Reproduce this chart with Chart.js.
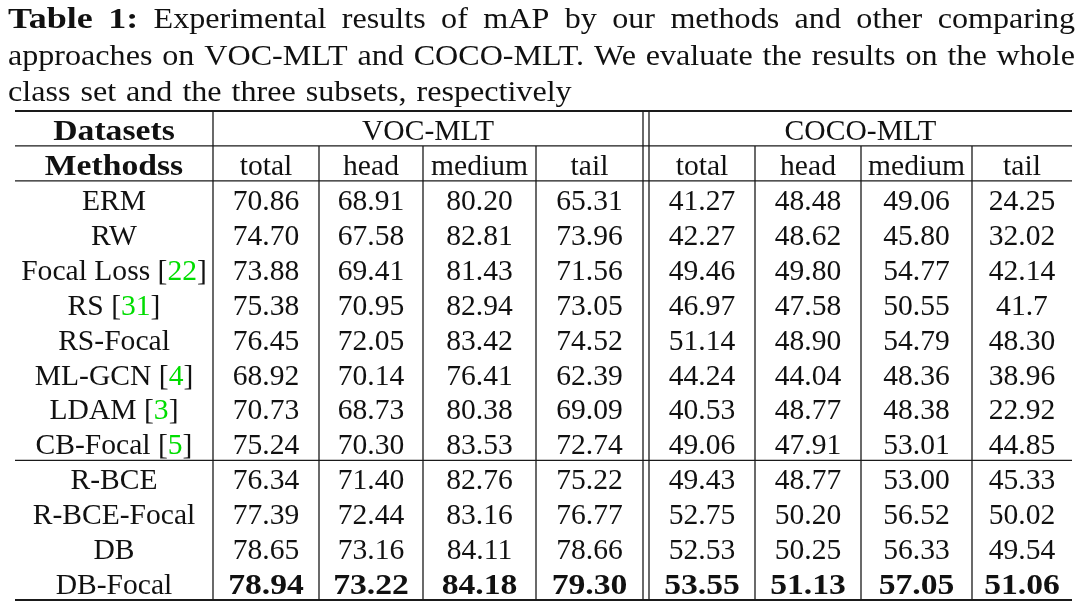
<!DOCTYPE html>
<html>
<head>
<meta charset="utf-8">
<script src="https://cdn.jsdelivr.net/npm/chart.js@4.4.0/dist/chart.umd.min.js"></script>
<style>
    html, body { margin: 0; padding: 0; background: #fff; }
    canvas { display: block; }
</style>
</head>
<body>
<canvas id="tabela" width="1080" height="608"></canvas>
<script>
// caption text (first words bold)
const tituloNegrito = 'Table 1:'
const tituloLinhas = [
    'Experimental results of mAP by our methods and other comparing',
    'approaches on VOC-MLT and COCO-MLT. We evaluate the results on the whole',
    'class set and the three subsets, respectively'
]

const datasets = ['VOC-MLT', 'COCO-MLT']
const subsets = ['total', 'head', 'medium', 'tail']

const metodos = ['ERM', 'RW', 'Focal Loss', 'RS', 'RS-Focal', 'ML-GCN', 'LDAM', 'CB-Focal',
    'R-BCE', 'R-BCE-Focal', 'DB', 'DB-Focal']
const referencias = ['', '', '22', '31', '', '4', '3', '5', '', '', '', '']

const vocTotal = ['70.86', '74.70', '73.88', '75.38', '76.45', '68.92', '70.73', '75.24', '76.34', '77.39', '78.65', '78.94']
const vocHead = ['68.91', '67.58', '69.41', '70.95', '72.05', '70.14', '68.73', '70.30', '71.40', '72.44', '73.16', '73.22']
const vocMedium = ['80.20', '82.81', '81.43', '82.94', '83.42', '76.41', '80.38', '83.53', '82.76', '83.16', '84.11', '84.18']
const vocTail = ['65.31', '73.96', '71.56', '73.05', '74.52', '62.39', '69.09', '72.74', '75.22', '76.77', '78.66', '79.30']

const cocoTotal = ['41.27', '42.27', '49.46', '46.97', '51.14', '44.24', '40.53', '49.06', '49.43', '52.75', '52.53', '53.55']
const cocoHead = ['48.48', '48.62', '49.80', '47.58', '48.90', '44.04', '48.77', '47.91', '48.77', '50.20', '50.25', '51.13']
const cocoMedium = ['49.06', '45.80', '54.77', '50.55', '54.79', '48.36', '48.38', '53.01', '53.00', '56.52', '56.33', '57.05']
const cocoTail = ['24.25', '32.02', '42.14', '41.7', '48.30', '38.96', '22.92', '44.85', '45.33', '50.02', '49.54', '51.06']

// layout (not data)
const larguraColunas = [198, 106, 104, 113, 107, 6, 106, 106, 111, 100]
const linhaSeparadora = 10   // row index where "our methods" start
const fonte = "'Liberation Serif', 'Times New Roman', serif"
const corTexto = '#111'
const corLinha = '#1a1a1a'
const corRef = '#00dd00'

const colunasValores = [vocTotal, vocHead, vocMedium, vocTail, null, cocoTotal, cocoHead, cocoMedium, cocoTail]
const linhasChave = ['Datasets', 'Methodss'].concat(metodos)

let bordas = [0]
larguraColunas.forEach((l, i) => bordas.push(bordas[i] + l))

// text stretched horizontally (Computer Modern is wider than Times)
function largura(ctx, texto, esc) {
    return ctx.measureText(texto).width * esc
}
function escreve(ctx, texto, x, y, esc) {
    ctx.save()
    ctx.translate(x, y)
    ctx.scale(esc, 1)
    ctx.textAlign = 'left'
    ctx.fillText(texto, 0, 0)
    ctx.restore()
}

const desenhaTabela = {
    id: 'desenhaTabela',
    afterDraw(chart) {
        const ctx = chart.ctx
        const x = chart.scales.x
        const y = chart.scales.y
        const area = chart.chartArea

        const passo = y.getPixelForValue(1) - y.getPixelForValue(0)
        const topoLinha = (i) => y.getPixelForValue(i) - passo / 2
        const centroLinha = (i) => y.getPixelForValue(i)
        const px = (v) => x.getPixelForValue(v)
        const centroCol = (c) => px((bordas[c] + bordas[c + 1]) / 2)

        ctx.save()

        // caption, justified like the paper
        const esq = 8, dir = 1075
        ctx.fillStyle = corTexto
        ctx.textBaseline = 'alphabetic'
        tituloLinhas.forEach((linha, n) => {
            let palavras = linha.split(' ').map(p => ({ t: p, bold: false }))
            if (n === 0) {
                palavras = tituloNegrito.split(' ').map(p => ({ t: p, bold: true })).concat(palavras)
            }
            const base = 28 + n * 36.5
            palavras.forEach(p => {
                ctx.font = (p.bold ? 'bold ' : '') + '30px ' + fonte
                p.esc = p.bold ? 1.2 : 1.07
                p.w = largura(ctx, p.t, p.esc)
            })
            const soma = palavras.reduce((a, p) => a + p.w, 0)
            const ultima = n === tituloLinhas.length - 1
            const espaco = ultima ? 10 : (dir - esq - soma) / (palavras.length - 1)
            let cx = esq
            palavras.forEach(p => {
                ctx.font = (p.bold ? 'bold ' : '') + '30px ' + fonte
                escreve(ctx, p.t, cx, base, p.esc)
                cx += p.w + espaco
            })
        })

        // horizontal rules
        ctx.strokeStyle = corLinha
        const hLinha = (yy, w) => {
            ctx.lineWidth = w
            ctx.beginPath()
            ctx.moveTo(area.left, yy)
            ctx.lineTo(area.right, yy)
            ctx.stroke()
        }
        hLinha(topoLinha(0), 2)
        hLinha(topoLinha(1), 1.3)
        hLinha(topoLinha(2), 1.3)
        hLinha(topoLinha(linhaSeparadora), 1.3)
        hLinha(topoLinha(linhasChave.length - 1) + passo, 2)

        // vertical rules
        const fundo = topoLinha(linhasChave.length - 1) + passo
        const vLinha = (xx, y0) => {
            ctx.lineWidth = 1.3
            ctx.beginPath()
            ctx.moveTo(xx, y0)
            ctx.lineTo(xx, fundo)
            ctx.stroke()
        }
        vLinha(px(bordas[1]), topoLinha(0))
        vLinha(px(bordas[5]), topoLinha(0))
        vLinha(px(bordas[6]), topoLinha(0));
        [2, 3, 4, 7, 8, 9].forEach(b => vLinha(px(bordas[b]), topoLinha(1)))

        const tam = 29
        const ajuste = tam * 0.33 + 2
        const fonteN = tam + 'px ' + fonte
        const fonteB = 'bold ' + tam + 'px ' + fonte
        const escN = 1.02, escB = 1.16

        const centrado = (texto, cx, cy, negrito) => {
            ctx.font = negrito ? fonteB : fonteN
            const esc = negrito ? escB : escN
            const w = largura(ctx, texto, esc)
            escreve(ctx, texto, cx - w / 2, cy, esc)
        }

        // header rows
        ctx.fillStyle = corTexto
        centrado('Datasets', centroCol(0), centroLinha(0) + ajuste, true)
        centrado('Methodss', centroCol(0), centroLinha(1) + ajuste, true)
        centrado(datasets[0], (px(bordas[1]) + px(bordas[5])) / 2, centroLinha(0) + ajuste, false)
        centrado(datasets[1], (px(bordas[6]) + px(bordas[10])) / 2, centroLinha(0) + ajuste, false)
        subsets.forEach((s, i) => {
            centrado(s, centroCol(1 + i), centroLinha(1) + ajuste, false)
            centrado(s, centroCol(6 + i), centroLinha(1) + ajuste, false)
        })

        // method names with green citation numbers
        metodos.forEach((m, i) => {
            const yy = centroLinha(i + 2) + ajuste
            ctx.font = fonteN
            if (!referencias[i]) {
                ctx.fillStyle = corTexto
                centrado(m, centroCol(0), yy, false)
                return
            }
            const partes = [[m + ' [', corTexto], [referencias[i], corRef], [']', corTexto]]
            const total = partes.reduce((a, p) => a + largura(ctx, p[0], escN), 0)
            let cx = centroCol(0) - total / 2
            partes.forEach(p => {
                ctx.fillStyle = p[1]
                escreve(ctx, p[0], cx, yy, escN)
                cx += largura(ctx, p[0], escN)
            })
        })

        // values, best in each column in bold
        ctx.fillStyle = corTexto
        colunasValores.forEach((col, c) => {
            if (!col) return
            const colIdx = c + 1
            const melhor = Math.max(...col.map(v => parseFloat(v)))
            col.forEach((v, i) => {
                centrado(v, centroCol(colIdx), centroLinha(i + 2) + ajuste, parseFloat(v) === melhor)
            })
        })

        ctx.restore()
    }
}

const grafico = new Chart(document.getElementById('tabela'), {
    type: 'scatter',
    data: {
        datasets: [{
            data: [],
            pointRadius: 0
        }]
    },
    options: {
        responsive: false,
        animation: false,
        layout: {
            padding: { left: 15, right: 8, top: 111, bottom: 8 }
        },
        plugins: {
            legend: { display: false },
            tooltip: { enabled: false }
        },
        scales: {
            x: {
                type: 'linear',
                display: false,
                min: 0,
                max: bordas[bordas.length - 1]
            },
            y: {
                type: 'category',
                display: false,
                labels: linhasChave,
                offset: true
            }
        }
    },
    plugins: [desenhaTabela]
})
</script>
</body>
</html>
